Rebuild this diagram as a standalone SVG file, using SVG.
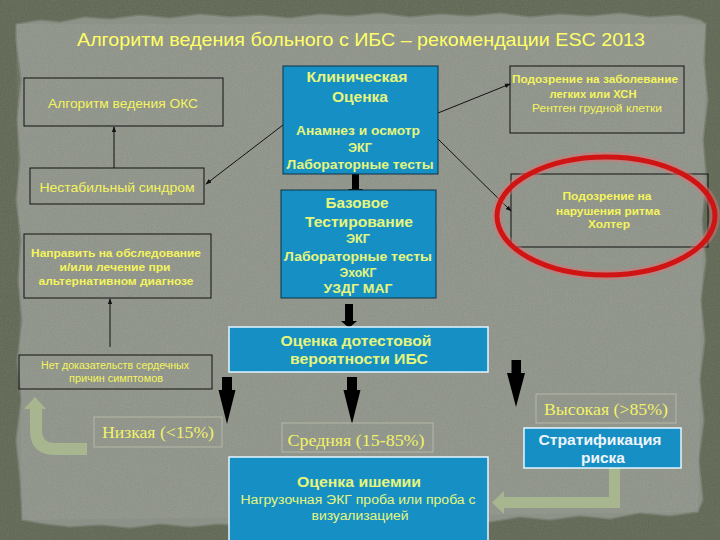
<svg xmlns="http://www.w3.org/2000/svg" width="720" height="540" viewBox="0 0 720 540">
<style>
.sans{font-family:"Liberation Sans",Arial,sans-serif}
.serif{font-family:"Liberation Serif","Times New Roman",serif}
.b{font-weight:bold}
.gbox{fill:none;stroke:#111;stroke-width:1}
.blue{fill:#1690c4;stroke:#0b3346;stroke-width:1}
.blueW{fill:#1690c4;stroke:#e4f6ff;stroke-width:1.5}
.lbl{fill:none;stroke:#b4b8a6;stroke-width:1}
.yt{fill:#f4f45c}
.bt{fill:#e6f57c}
.wt{fill:#eef4fa}
.st{fill:#f2f266}
.thin{stroke:#111;stroke-width:1;fill:none}
.thick{fill:#000}
.green{fill:#a8b68f}
</style>
<defs>
<marker id="ah" viewBox="0 0 8 8" refX="7" refY="4" markerWidth="6" markerHeight="6" orient="auto">
<path d="M0,1 L8,4 L0,7 Z" fill="#111"/>
</marker>
<filter id="grain" x="0" y="0" width="100%" height="100%">
<feTurbulence type="fractalNoise" baseFrequency="0.7" numOctaves="3" seed="7"/>
<feColorMatrix type="saturate" values="0"/>
<feComponentTransfer><feFuncA type="linear" slope="0" intercept="0.14"/></feComponentTransfer>
<feComposite in2="SourceGraphic" operator="in"/>
</filter>
</defs>

<g id="background">
<rect x="0" y="0" width="720" height="540" fill="#58614b"/>
<rect x="0" y="0" width="720" height="540" fill="#fff" filter="url(#grain)"/>
<path id="paper" fill="#8d9288" stroke="#7a7f72" stroke-width="1.5" d="M16,24 L40,20 L60,22 L85,17 L110,19 L140,15 L170,18 L200,14 L230,17 L260,15 L290,18 L320,14 L350,16 L380,13 L410,17 L440,14 L470,16 L500,13 L530,17 L560,14 L590,16 L620,13 L650,17 L680,15 L700,20 L706,24 L704,60 L708,100 L703,140 L707,180 L702,220 L706,260 L701,300 L705,340 L700,380 L704,420 L699,460 L703,500 L698,512 L670,516 L640,513 L610,519 L580,516 L550,520 L520,517 L490,522 L460,519 L430,524 L400,521 L370,525 L340,522 L310,526 L280,523 L250,527 L220,524 L190,527 L160,524 L130,528 L100,525 L70,527 L45,524 L22,520 L20,480 L16,440 L21,400 L17,360 L22,320 L18,280 L21,240 L16,200 L20,160 L17,120 L21,80 L16,40 Z"/>
<path fill="#fff" filter="url(#grain)" d="M16,24 L706,24 L698,512 L22,520 Z" opacity="0.8"/>
</g>

<text id="title" class="sans" x="361" y="46" font-size="19" fill="#ffff66" text-anchor="middle" textLength="568" lengthAdjust="spacingAndGlyphs">Алгоритм ведения больного с ИБС – рекомендации ESC 2013</text>

<g id="connectors">
<line class="thin" x1="114" y1="168" x2="114" y2="127" marker-end="url(#ah)"/>
<line class="thin" x1="283" y1="125" x2="206" y2="184" marker-end="url(#ah)"/>
<line class="thin" x1="438" y1="113" x2="510" y2="84" marker-end="url(#ah)"/>
<line class="thin" x1="438" y1="139" x2="511" y2="211" marker-end="url(#ah)"/>
<line class="thin" x1="110" y1="347" x2="110" y2="299" marker-end="url(#ah)"/>
<path class="thick" d="M352,174 H359 V189 H363 L355.5,197 L348,189 H352 Z"/>
<path class="thick" d="M345,304 H353 V321 H357 L349,328 L341,321 H345 Z"/>
<path class="thick" d="M222,377 H232 V390 H235.5 L227,424 L218.5,390 H222 Z"/>
<path class="thick" d="M347,377 H357 V390 H360.5 L352,424 L343.5,390 H347 Z"/>
<path class="thick" d="M511.5,360 H521 V373 H525 L516,407 L507,373 H511.5 Z"/>
<path class="green" d="M24,409 L35,397 L46,409 L42,409 L42,430 Q42,443 55,443 L87,443 L87,455 L55,455 Q30,455 30,430 L30,409 Z"/>
<path class="green" d="M609,468 H620 V508 H504 V514 L492,502.5 L504,491 V497 H609 Z"/>
</g>

<g id="node-oks">
<rect class="gbox" x="24" y="78" width="199" height="48"/>
<text class="sans yt" x="123" y="108" font-size="12.5" text-anchor="middle" textLength="150" lengthAdjust="spacingAndGlyphs">Алгоритм ведения ОКС</text>
</g>

<g id="node-unstable">
<rect class="gbox" x="30" y="168" width="174" height="36"/>
<text class="sans yt" x="117" y="192" font-size="13" text-anchor="middle" textLength="155" lengthAdjust="spacingAndGlyphs">Нестабильный синдром</text>
</g>

<g id="node-clinical">
<rect class="blue" x="283" y="66" width="155" height="108"/>
<text class="sans b bt" x="357" y="82" font-size="14" text-anchor="middle" textLength="101" lengthAdjust="spacingAndGlyphs">Клиническая</text>
<text class="sans b bt" x="360" y="102" font-size="14" text-anchor="middle" textLength="56" lengthAdjust="spacingAndGlyphs">Оценка</text>
<text class="sans b bt" x="358" y="135" font-size="12" text-anchor="middle" textLength="124" lengthAdjust="spacingAndGlyphs">Анамнез и осмотр</text>
<text class="sans b bt" x="360" y="152" font-size="12" text-anchor="middle" textLength="24" lengthAdjust="spacingAndGlyphs">ЭКГ</text>
<text class="sans b bt" x="360" y="169" font-size="12" text-anchor="middle" textLength="147" lengthAdjust="spacingAndGlyphs">Лабораторные тесты</text>
</g>

<g id="node-basic">
<rect class="blue" x="281" y="190" width="155" height="108"/>
<text class="sans b bt" x="357" y="208" font-size="14" text-anchor="middle" textLength="63" lengthAdjust="spacingAndGlyphs">Базовое</text>
<text class="sans b bt" x="359" y="227" font-size="14" text-anchor="middle" textLength="108" lengthAdjust="spacingAndGlyphs">Тестирование</text>
<text class="sans b bt" x="358" y="243" font-size="12" text-anchor="middle" textLength="24" lengthAdjust="spacingAndGlyphs">ЭКГ</text>
<text class="sans b bt" x="358" y="261" font-size="12" text-anchor="middle" textLength="148" lengthAdjust="spacingAndGlyphs">Лабораторные тесты</text>
<text class="sans b bt" x="358" y="277" font-size="12" text-anchor="middle" textLength="37" lengthAdjust="spacingAndGlyphs">ЭхоКГ</text>
<text class="sans b bt" x="358" y="293" font-size="12" text-anchor="middle" textLength="69" lengthAdjust="spacingAndGlyphs">УЗДГ МАГ</text>
</g>

<g id="node-lung">
<rect class="gbox" x="510" y="66" width="174" height="67"/>
<text class="sans b yt" x="595" y="83" font-size="10.5" text-anchor="middle" textLength="166" lengthAdjust="spacingAndGlyphs">Подозрение на заболевание</text>
<text class="sans b yt" x="593" y="98" font-size="10.5" text-anchor="middle" textLength="87" lengthAdjust="spacingAndGlyphs">легких или ХСН</text>
<text class="sans yt" x="597" y="112" font-size="10.5" text-anchor="middle" textLength="130" lengthAdjust="spacingAndGlyphs">Рентген грудной клетки</text>
</g>

<g id="node-rhythm">
<rect class="gbox" x="511" y="174" width="197" height="73"/>
<text class="sans b yt" x="607" y="200" font-size="10.5" text-anchor="middle" textLength="89" lengthAdjust="spacingAndGlyphs">Подозрение на</text>
<text class="sans b yt" x="608" y="215" font-size="10.5" text-anchor="middle" textLength="104" lengthAdjust="spacingAndGlyphs">нарушения ритма</text>
<text class="sans b yt" x="609" y="228" font-size="10.5" text-anchor="middle" textLength="42" lengthAdjust="spacingAndGlyphs">Холтер</text>
</g>

<g id="highlight">
<ellipse cx="606" cy="216" rx="109" ry="59" fill="none" stroke="#e07070" stroke-width="10" opacity="0.45"/>
<ellipse cx="606" cy="216" rx="109" ry="59" fill="none" stroke="#d01414" stroke-width="5"/>
</g>

<g id="node-refer">
<rect class="gbox" x="24" y="234" width="187" height="64"/>
<text class="sans b yt" x="116" y="257" font-size="11" text-anchor="middle" textLength="170" lengthAdjust="spacingAndGlyphs">Направить на обследование</text>
<text class="sans b yt" x="115" y="271" font-size="11" text-anchor="middle" textLength="111" lengthAdjust="spacingAndGlyphs">и/или лечение при</text>
<text class="sans b yt" x="116" y="285" font-size="11" text-anchor="middle" textLength="155" lengthAdjust="spacingAndGlyphs">альтернативном диагнозе</text>
</g>

<g id="node-noevidence">
<rect class="gbox" x="19" y="355" width="193" height="34"/>
<text class="sans yt" x="115" y="369" font-size="10" text-anchor="middle" textLength="148" lengthAdjust="spacingAndGlyphs">Нет доказательств сердечных</text>
<text class="sans yt" x="116" y="382" font-size="10" text-anchor="middle" textLength="94" lengthAdjust="spacingAndGlyphs">причин симптомов</text>
</g>

<g id="node-pretest">
<rect class="blueW" x="229" y="327" width="259" height="45"/>
<text class="sans b bt" x="356" y="346" font-size="14" text-anchor="middle" textLength="151" lengthAdjust="spacingAndGlyphs">Оценка дотестовой</text>
<text class="sans b bt" x="359" y="364" font-size="14" text-anchor="middle" textLength="138" lengthAdjust="spacingAndGlyphs">вероятности ИБС</text>
</g>

<g id="label-low">
<rect class="lbl" x="94" y="417" width="128" height="30"/>
<text class="serif st" x="158" y="438" font-size="17" text-anchor="middle" textLength="112" lengthAdjust="spacingAndGlyphs">Низкая (&lt;15%)</text>
</g>

<g id="label-mid">
<rect class="lbl" x="282" y="423" width="151" height="29"/>
<text class="serif st" x="356" y="446" font-size="17" text-anchor="middle" textLength="137" lengthAdjust="spacingAndGlyphs">Средняя (15-85%)</text>
</g>

<g id="label-high">
<rect class="lbl" x="536" y="394" width="140" height="29"/>
<text class="serif st" x="606" y="415" font-size="17" text-anchor="middle" textLength="124" lengthAdjust="spacingAndGlyphs">Высокая (&gt;85%)</text>
</g>

<g id="node-strat">
<rect class="blueW" x="524" y="428" width="157" height="40"/>
<text class="sans b wt" x="600" y="445" font-size="14" text-anchor="middle" textLength="123" lengthAdjust="spacingAndGlyphs">Стратификация</text>
<text class="sans b wt" x="603" y="463" font-size="14" text-anchor="middle" textLength="44" lengthAdjust="spacingAndGlyphs">риска</text>
</g>

<g id="node-ischemia">
<rect class="blueW" x="229" y="457" width="259" height="92"/>
<text class="sans b bt" x="359" y="487" font-size="14" text-anchor="middle" textLength="124" lengthAdjust="spacingAndGlyphs">Оценка ишемии</text>
<text class="sans bt" x="358" y="504" font-size="12.5" text-anchor="middle" textLength="235" lengthAdjust="spacingAndGlyphs">Нагрузочная ЭКГ проба или проба с</text>
<text class="sans bt" x="360" y="520" font-size="12.5" text-anchor="middle" textLength="97" lengthAdjust="spacingAndGlyphs">визуализацией</text>
</g>
</svg>
